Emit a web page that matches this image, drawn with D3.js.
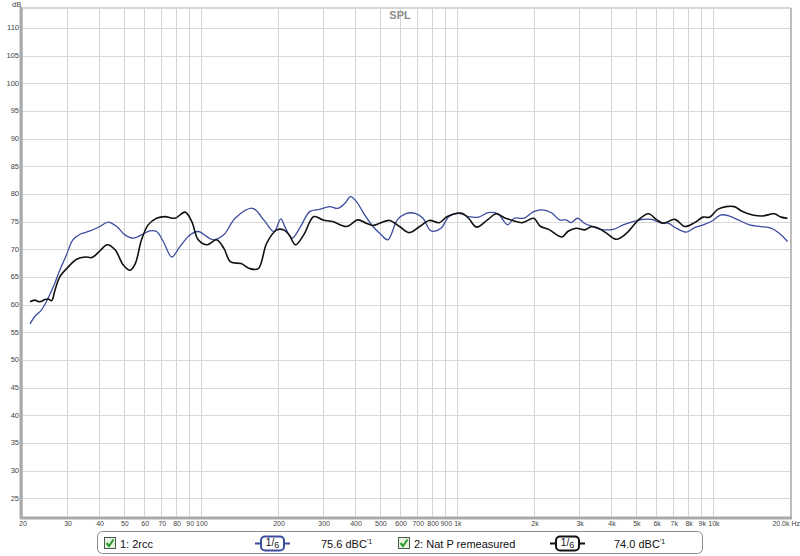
<!DOCTYPE html>
<html>
<head>
<meta charset="utf-8">
<script src="https://cdn.jsdelivr.net/npm/d3@7"></script>
<style>
  body { margin: 0; background: #fff; }
  text { font-family: "Liberation Sans", Arial, sans-serif; }
</style>
</head>
<body>
<div id="chart"></div>
<script>

// series 1: 2rcc (blue)
var blueFreq = [21.5, 22.4, 23.8, 24.9, 26.5, 28.1, 29.8, 31.6, 33.7, 36.9, 40.3, 43.4, 46.9, 50.5, 54.5, 58.6, 63.2, 67.1, 71.3, 76.9, 82.9, 90.8, 97.6,
  111.7, 122.8, 136, 159, 176, 193, 205, 214, 227, 245, 266, 291, 318, 343, 365, 384, 405, 436, 470, 506, 537,
  585, 629, 687, 737, 793, 866, 930, 1015, 1110, 1212, 1323, 1445, 1578, 1673, 1826, 1995, 2142, 2340, 2516, 2670, 2790, 2960,
  3145, 3385, 3640, 4080, 4460, 4880, 5340, 5760, 6200, 6680, 7200, 7870, 8480, 9270, 9990, 10750, 11600, 12680, 13880, 15410, 16850, 18150, 19560];
var blueDb = [56.5, 57.8, 59.0, 60.5, 63.2, 66.2, 68.9, 71.7, 72.7, 73.3, 74.1, 74.9, 74.1, 72.6, 72.0, 72.6, 73.3, 73.2, 71.4, 68.6, 70.5, 72.6, 73.2,
  71.7, 72.6, 75.6, 77.4, 75.3, 73.2, 75.5, 73.8, 72.0, 74.1, 76.8, 77.2, 77.7, 77.4, 78.3, 79.5, 78.6, 76.2, 74.1, 72.6, 71.7,
  75.3, 76.4, 76.5, 75.6, 73.3, 73.8, 75.9, 76.5, 75.9, 75.8, 76.6, 76.4, 74.4, 75.6, 75.6, 76.8, 77.1, 76.6, 75.3, 75.3, 74.8, 75.6,
  74.7, 74.1, 73.6, 73.6, 74.4, 75.0, 75.4, 75.4, 74.8, 74.7, 73.8, 73.1, 73.9, 74.5, 75.2, 76.2, 76.0, 75.2, 74.4, 74.1, 73.8, 72.9, 71.4];

// series 2: Nat P remeasured (black)
var blackFreq = [21.5, 22.4, 23.5, 24.6, 25.3, 26.1, 26.9, 28.1, 30.3, 32.7, 35.3, 37.5, 40.3, 43.0, 46.2, 49.8, 52.9, 55.4, 58.6, 62.2, 67.1, 72.3, 79.2, 86.7, 92.1, 97.6,
  106, 115, 122.8, 130.6, 143.6, 155, 167.5, 180.7, 198, 210, 221, 234, 252, 276, 300, 327, 370, 410, 442, 470, 500, 545,
  597, 652, 715, 780, 852, 917, 1047, 1110, 1193, 1323, 1423, 1532, 1650, 1800, 1995, 2110, 2300, 2570, 2710, 2920,
  3160, 3360, 3570, 3840, 4200, 4600, 5120, 5600, 6040, 6400, 7100, 7760, 8480, 9130, 9700, 10440, 11250, 12120, 13060, 14280, 15620, 17350, 18440, 19560];
var blackDb = [60.5, 60.8, 60.5, 60.9, 61.0, 60.7, 62.6, 65.0, 66.8, 68.2, 68.6, 68.5, 69.7, 70.8, 69.9, 67.1, 66.2, 67.4, 71.7, 74.4, 75.6, 75.9, 75.6, 76.7, 75.0, 71.7,
  70.8, 71.7, 70.2, 67.7, 67.4, 66.5, 66.5, 71.1, 73.5, 73.5, 72.6, 70.8, 72.6, 75.9, 75.3, 75.0, 74.1, 75.3, 74.7, 74.3, 74.7, 75.2,
  74.1, 73.0, 74.1, 75.2, 74.8, 75.9, 76.5, 75.6, 74.0, 75.4, 76.4, 75.7, 75.2, 74.8, 75.6, 74.2, 73.5, 72.2, 73.2, 73.8,
  73.5, 74.1, 73.8, 72.9, 71.8, 72.9, 75.3, 76.4, 75.3, 74.7, 75.4, 74.1, 74.8, 75.8, 75.8, 77.2, 77.7, 77.7, 76.8, 76.2, 76.0, 76.4, 75.8, 75.6];

// axis ticks
var yTicks = [25, 30, 35, 40, 45, 50, 55, 60, 65, 70, 75, 80, 85, 90, 95, 100, 105, 110];
var xTicks = [20, 30, 40, 50, 60, 70, 80, 90, 100, 200, 300, 400, 500, 600, 700, 800, 900,
  1000, 2000, 3000, 4000, 5000, 6000, 7000, 8000, 9000, 10000, 20000];
var xTickLabels = ["20", "30", "40", "50", "60", "70", "80", "90", "100", "200", "300", "400", "500", "600", "700", "800", "900",
  "1k", "2k", "3k", "4k", "5k", "6k", "7k", "8k", "9k", "10k", "20.0k Hz"];

// legend
var legendNames = ["1: 2rcc", "2: Nat P remeasured"];
var legendValues = ["75.6 dBC", "74.0 dBC"];
var legendColors = ["#3c4c9e", "#111111"];

var width = 800, height = 556;
var plot = {left: 22, right: 790, top: 8, bottom: 517};

var svg = d3.select("#chart")
  .append("svg")
    .attr("width", width)
    .attr("height", height);

var x = d3.scaleLog()
  .domain([20, 20000])
  .range([plot.left, plot.right]);

var y = d3.scaleLinear()
  .domain([21.6, 113.6])
  .range([plot.bottom, plot.top]);

// grid
svg.append("g")
  .selectAll("line")
  .data(yTicks)
  .enter()
  .append("line")
    .attr("x1", plot.left)
    .attr("x2", plot.right)
    .attr("y1", function(d) { return Math.round(y(d)) + 0.5; })
    .attr("y2", function(d) { return Math.round(y(d)) + 0.5; })
    .style("stroke", "#d9d9d9");

svg.append("g")
  .selectAll("line")
  .data(xTicks)
  .enter()
  .append("line")
    .attr("x1", function(d) { return Math.round(x(d)) + 0.5; })
    .attr("x2", function(d) { return Math.round(x(d)) + 0.5; })
    .attr("y1", plot.top)
    .attr("y2", plot.bottom)
    .style("stroke", "#d4d4d4");

// frame
svg.append("line")
  .attr("x1", plot.left).attr("x2", plot.right + 1)
  .attr("y1", plot.top).attr("y2", plot.top)
  .style("stroke", "#d8d8d8").style("stroke-width", 2);
svg.append("line")
  .attr("x1", plot.right + 1).attr("x2", plot.right + 1)
  .attr("y1", plot.top).attr("y2", plot.bottom)
  .style("stroke", "#bdbdbd").style("stroke-width", 2);
svg.append("line")
  .attr("x1", plot.left - 1).attr("x2", plot.left - 1)
  .attr("y1", plot.top - 1).attr("y2", plot.bottom + 1)
  .style("stroke", "#a9a9a9").style("stroke-width", 3);
svg.append("line")
  .attr("x1", plot.left - 2).attr("x2", plot.right + 2)
  .attr("y1", plot.bottom + 1).attr("y2", plot.bottom + 1)
  .style("stroke", "#a9a9a9").style("stroke-width", 3);

// y labels
svg.append("g")
  .selectAll("text")
  .data(yTicks)
  .enter()
  .append("text")
    .attr("x", 19)
    .attr("y", function(d) { return y(d) + 2.5; })
    .attr("text-anchor", "end")
    .style("font-size", "7.5px")
    .style("fill", "#444")
    .text(function(d) { return d; });

svg.append("text")
  .attr("x", 12).attr("y", 7)
  .style("font-size", "7.5px")
  .style("fill", "#444")
  .text("dB");

// x labels
svg.append("g")
  .selectAll("text")
  .data(xTicks)
  .enter()
  .append("text")
    .attr("x", function(d, i) { return i == xTicks.length - 1 ? 800 : x(d) + 1; })
    .attr("y", 526)
    .attr("text-anchor", function(d, i) { return i == xTicks.length - 1 ? "end" : "middle"; })
    .style("font-size", "7px")
    .style("fill", "#444")
    .text(function(d, i) { return xTickLabels[i]; });

// title
svg.append("text")
  .attr("x", 400).attr("y", 19)
  .attr("text-anchor", "middle")
  .style("font-size", "11px")
  .style("font-weight", "bold")
  .style("fill", "#8c8c8c")
  .text("SPL");

// curves
var line = d3.line()
  .x(function(d) { return x(d[0]); })
  .y(function(d) { return y(d[1]); })
  .curve(d3.curveCatmullRom.alpha(0.5));

var series = [
  {freq: blueFreq, db: blueDb, color: legendColors[0], w: 1.3},
  {freq: blackFreq, db: blackDb, color: legendColors[1], w: 1.6}
];

svg.append("g")
  .selectAll("path")
  .data(series)
  .enter()
  .append("path")
    .attr("d", function(s) { return line(d3.zip(s.freq, s.db)); })
    .style("fill", "none")
    .style("stroke", function(s) { return s.color; })
    .style("stroke-width", function(s) { return s.w; })
    .style("stroke-linejoin", "round");

// legend
svg.append("rect")
  .attr("x", 97.5).attr("y", 531.5)
  .attr("width", 605).attr("height", 22)
  .attr("rx", 5)
  .style("fill", "#fff")
  .style("stroke", "#8a8a8a");

var items = [{x: 104}, {x: 398}];
items.forEach(function(it, i) {
  var g = svg.append("g").attr("transform", "translate(" + it.x + ",0)");
  // checkbox
  g.append("rect")
    .attr("x", 0.5).attr("y", 537.5)
    .attr("width", 11).attr("height", 11)
    .style("fill", "#e6f3e0")
    .style("stroke", "#4a5a4a");
  g.append("path")
    .attr("d", "M2.5,543 L5,546 L9.5,539.5")
    .style("fill", "none")
    .style("stroke", "#2c9a2c")
    .style("stroke-width", 2);
  g.append("text")
    .attr("x", 16).attr("y", 547.5)
    .style("font-size", "11px")
    .style("fill", "#111")
    .text(legendNames[i]);

  // smoothing badge
  var bx = i == 0 ? 255 : 550;
  var b = svg.append("g").attr("transform", "translate(" + bx + ",0)");
  b.append("line")
    .attr("x1", 0).attr("x2", 35)
    .attr("y1", 543.5).attr("y2", 543.5)
    .style("stroke", legendColors[i]).style("stroke-width", 2);
  b.append("rect")
    .attr("x", 6).attr("y", 536.5)
    .attr("width", 23).attr("height", 14)
    .attr("rx", 4)
    .style("fill", "#fff")
    .style("stroke", legendColors[i])
    .style("stroke-width", 2);
  var t = b.append("text")
    .attr("x", 17.5).attr("y", 547.5)
    .attr("text-anchor", "middle")
    .style("font-size", "10px")
    .style("fill", "#111");
  t.append("tspan").attr("dy", -2).text("1");
  t.append("tspan").attr("dy", 0).text("/");
  t.append("tspan").attr("dy", 2).style("font-size", "9px").text("6");

  var vx = i == 0 ? 321 : 614;
  var v = svg.append("text")
    .attr("x", vx).attr("y", 547.5)
    .style("font-size", "11px")
    .style("fill", "#111");
  v.append("tspan").text(legendValues[i]);
  v.append("tspan").attr("dy", -4).style("font-size", "7px").text("'1");
});

</script>
</body>
</html>
